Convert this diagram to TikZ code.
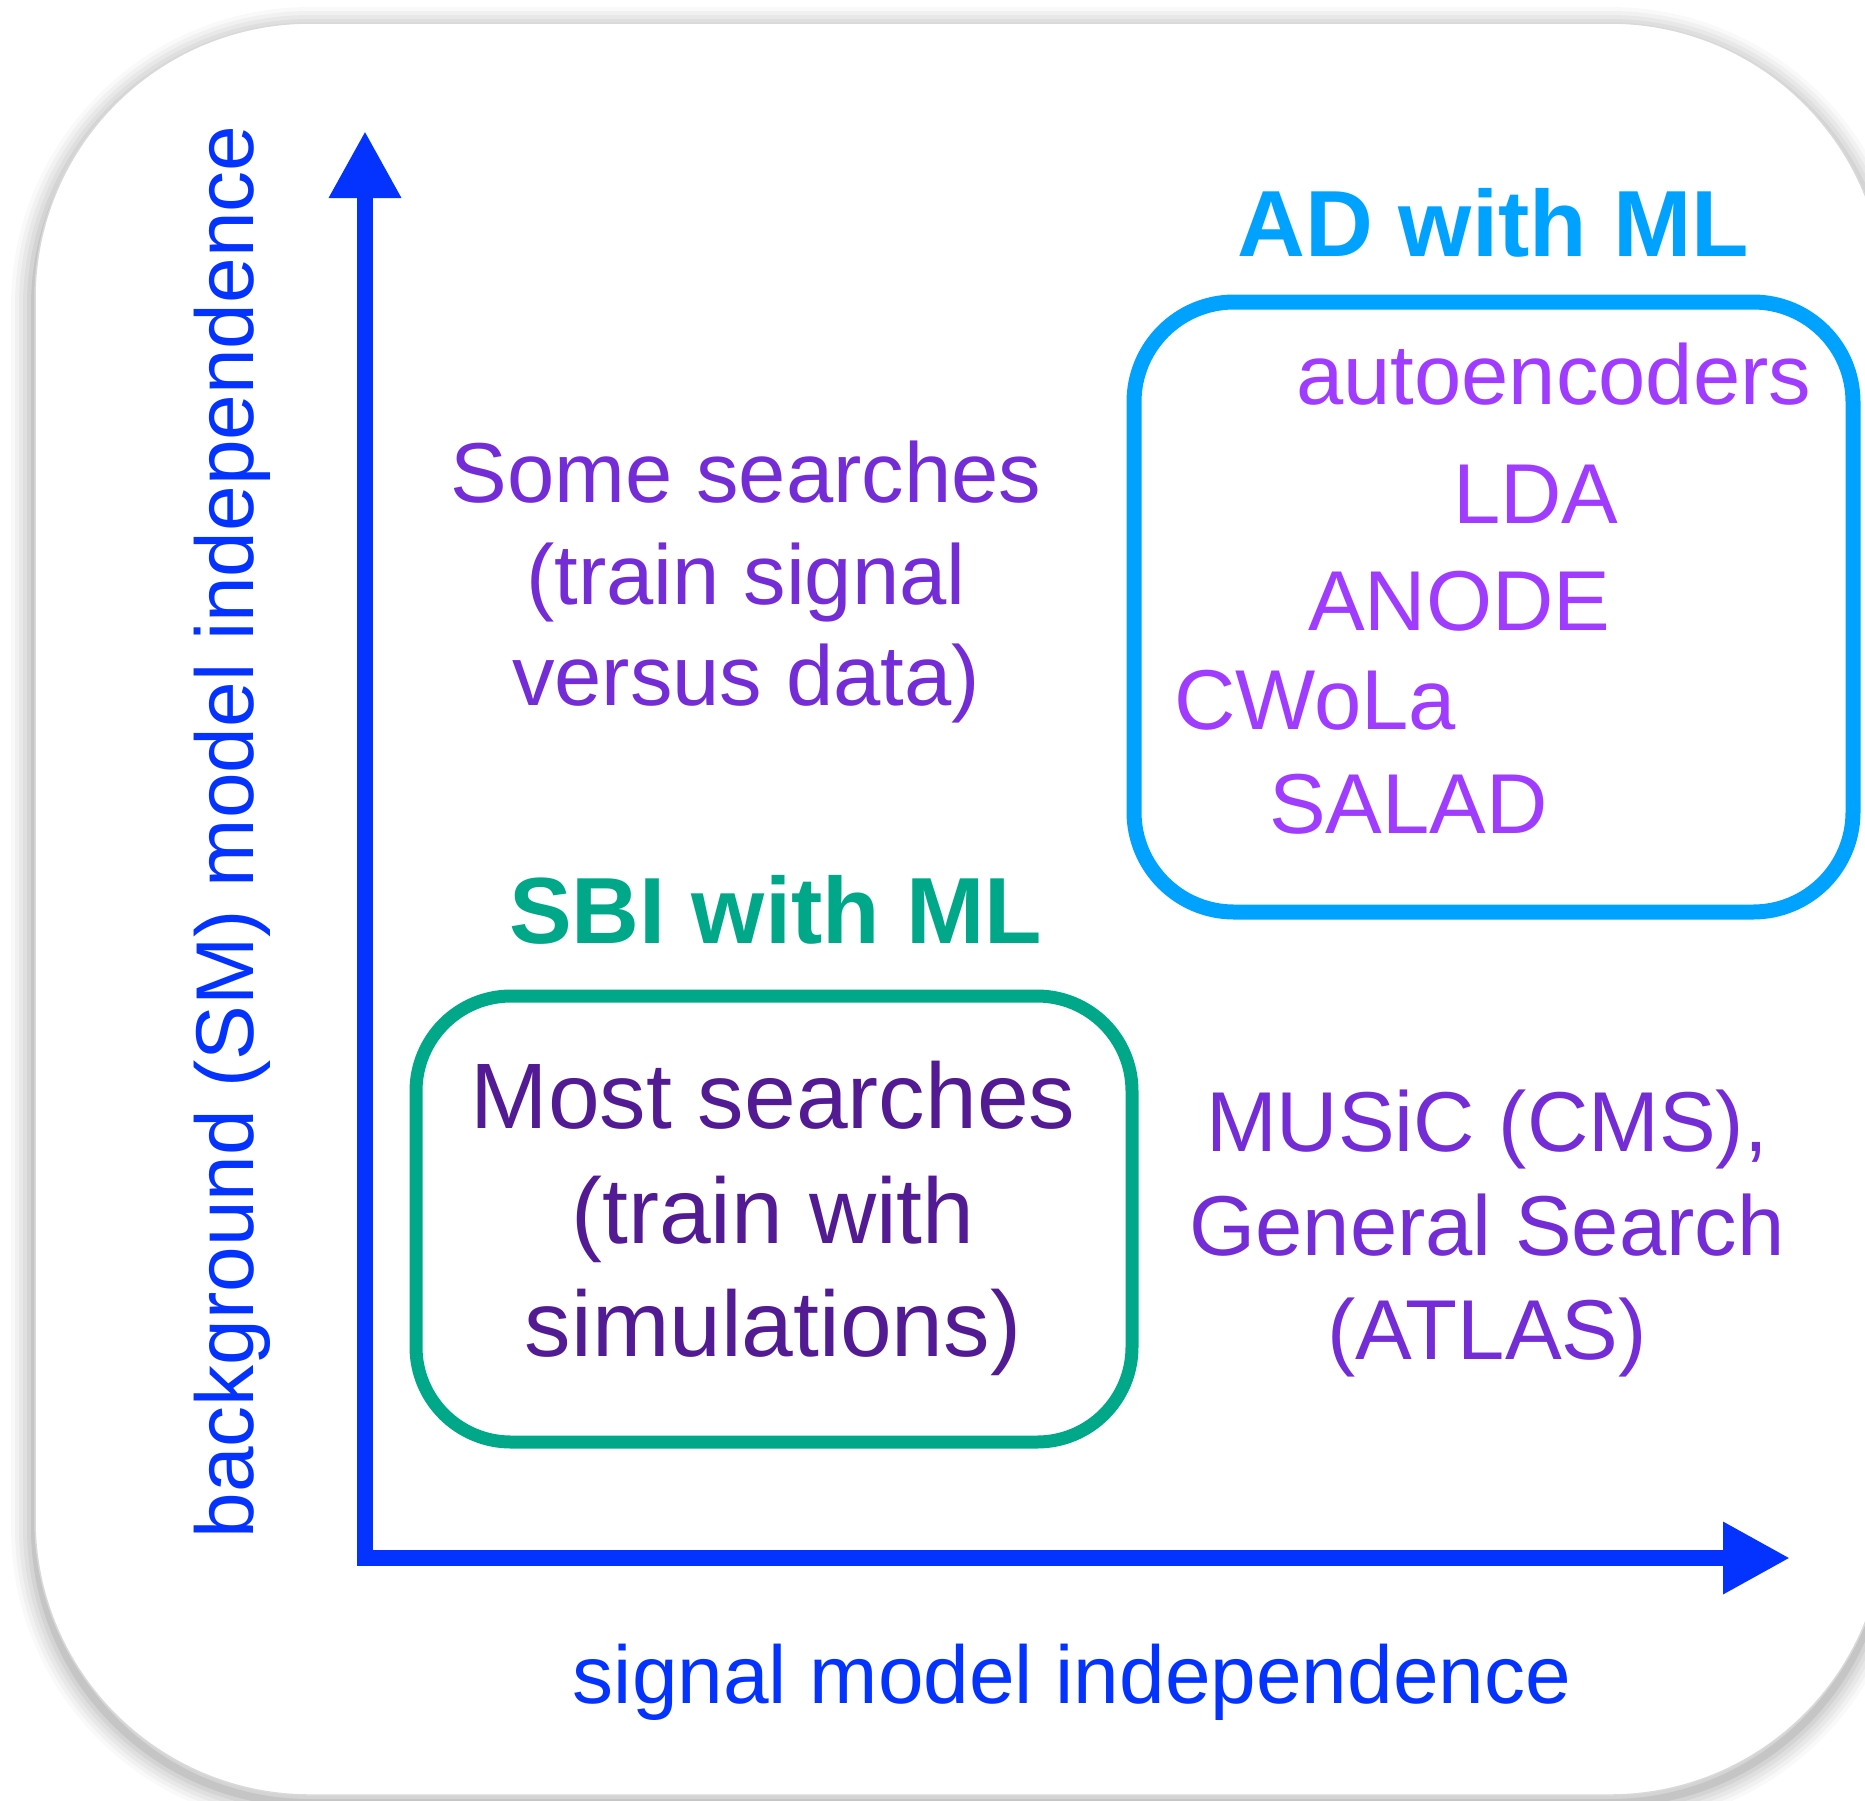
\documentclass[tikz,border=0pt]{standalone}
\usepackage{fontspec}
\setmainfont{Liberation Sans}
\usetikzlibrary{arrows.meta}
\definecolor{axisblue}{RGB}{4,51,255}
\definecolor{adcyan}{RGB}{0,162,255}
\definecolor{sbiteal}{RGB}{0,168,138}
\definecolor{eggplant}{RGB}{83,27,147}
\definecolor{srchpurple}{RGB}{116,44,214}
\definecolor{grape}{RGB}{160,60,255}
\begin{document}
\begin{tikzpicture}[x=1pt,y=-1pt,
  txt/.style={inner sep=0pt, font=\fontsize{85}{100}\selectfont},
  bigtxt/.style={inner sep=0pt, font=\fontsize{93}{110}\selectfont},
  title/.style={inner sep=0pt, font=\fontsize{94}{110}\selectfont\bfseries},
  axislabel/.style={inner sep=0pt, text=axisblue, font=\fontsize{82}{96}\selectfont},
  axisline/.style={draw=axisblue, line width=16pt, miter limit=10, line join=miter,
    {Triangle[length=67pt,width=68pt]}-{Triangle[length=67pt,width=68pt]}},
  groupbox/.style={draw, fill=none, inner sep=0pt}]
\useasboundingbox (0,0) rectangle (1865,1800);

% card with soft drop shadow
\foreach \w/\o in {48/0.025,40/0.03,32/0.035,24/0.04,16/0.05,8/0.07} {
  \draw[line width=\w pt, black, opacity=\o, rounded corners=275pt]
    (35,31) rectangle (1885,1803);
}
\draw[fill=white, draw=black!15, line width=1.5pt, rounded corners=275pt]
  (35,23) rectangle (1885,1795);

% axes
\coordinate (origin) at (365,1558);
\coordinate (ytip) at (365,131);
\coordinate (xtip) at (1790,1558);
\draw[axisline] (ytip) -- (origin) -- (xtip);

\node[axislabel, rotate=90, anchor=base] (ylabel) at (253,832)
  {background (SM) model independence};
\node[axislabel, anchor=base] (xlabel) at (1072,1703)
  {signal model independence};

% anomaly detection group
\node[title, text=adcyan, anchor=base west] (adtitle) at (1237,256) {AD with ML};
\node[groupbox, draw=adcyan, line width=15pt, rounded corners=100pt,
  minimum width=719pt, minimum height=610pt] (adbox) at (1493.5,607) {};
\node[txt, text=grape, anchor=base west] (ae) at (1296,404) {autoencoders};
\node[txt, text=grape, anchor=base west] (lda) at (1453,523) {LDA};
\node[txt, text=grape, anchor=base west] (anode) at (1308,630) {ANODE};
\node[txt, text=grape, anchor=base west] (cwola) at (1174,729) {CWoLa};
\node[txt, text=grape, anchor=base west] (salad) at (1269,833) {SALAD};

% signal-trained searches
\node[txt, text=srchpurple, anchor=base] (some1) at (746,502) {Some searches};
\node[txt, text=srchpurple, anchor=base] (some2) at (746,604) {(train signal};
\node[txt, text=srchpurple, anchor=base] (some3) at (746,705) {versus data)};

% simulation-based inference group
\node[title, text=sbiteal, anchor=base west] (sbititle) at (509,943) {SBI with ML};
\node[groupbox, draw=sbiteal, line width=13pt, rounded corners=95pt,
  minimum width=716pt, minimum height=446pt] (sbibox) at (774,1219) {};
\node[bigtxt, text=eggplant, anchor=base] (most1) at (773,1128) {Most searches};
\node[bigtxt, text=eggplant, anchor=base] (most2) at (773,1243) {(train with};
\node[bigtxt, text=eggplant, anchor=base] (most3) at (773,1356) {simulations)};

% general searches
\node[txt, text=srchpurple, anchor=base] (gen1) at (1487,1151) {MUSiC (CMS),};
\node[txt, text=srchpurple, anchor=base] (gen2) at (1487,1255) {General Search};
\node[txt, text=srchpurple, anchor=base] (gen3) at (1487,1359) {(ATLAS)};
\end{tikzpicture}
\end{document}
